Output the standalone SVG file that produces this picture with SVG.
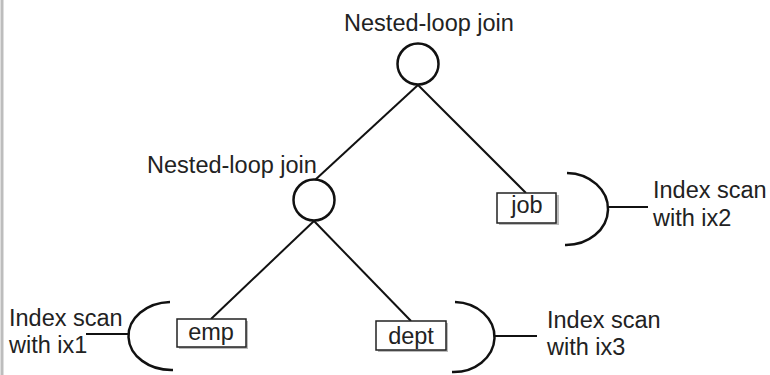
<svg xmlns="http://www.w3.org/2000/svg" width="770" height="375" viewBox="0 0 770 375">
<style>
text{font-family:"Liberation Sans",Arial,sans-serif;font-size:23.5px;fill:#222}
.c{fill:#fff;stroke:#111;stroke-width:2.5}
.ln{stroke:#111;stroke-width:2;fill:none}
.br{stroke:#111;stroke-width:2.5;fill:none}
.box{fill:#fff;stroke:#222;stroke-width:1.5}
.sh{fill:#bbb}
.m{text-anchor:middle}
</style>
<rect x="0" y="0" width="770" height="375" fill="#fff"/>
<line x1="2" y1="0" x2="2" y2="375" stroke="#bdbdbd" stroke-width="3"/>
<g id="connectors">
<line class="ln" x1="418" y1="85" x2="315" y2="180"/>
<line class="ln" x1="418" y1="85" x2="526" y2="193"/>
<line class="ln" x1="314" y1="221" x2="211" y2="319"/>
<line class="ln" x1="314" y1="221" x2="411" y2="321"/>
</g>
<g id="join-top">
<text x="429" y="31" class="m">Nested-loop join</text>
<circle class="c" cx="418" cy="64" r="20.5"/>
</g>
<g id="join-inner">
<text x="232" y="173" class="m">Nested-loop join</text>
<circle class="c" cx="314" cy="200" r="20.5"/>
</g>
<g id="job">
<rect class="sh" x="499" y="195" width="60" height="30"/>
<rect class="box" x="497" y="193" width="59" height="30"/>
<text x="527" y="213" class="m">job</text>
</g>
<g id="emp">
<rect class="sh" x="179" y="321" width="69" height="28"/>
<rect class="box" x="177" y="319" width="69" height="28"/>
<text x="211" y="340" class="m">emp</text>
</g>
<g id="dept">
<rect class="sh" x="378" y="323" width="70" height="29"/>
<rect class="box" x="376" y="321" width="70" height="29"/>
<text x="411" y="344" class="m">dept</text>
</g>
<g id="scan-ix2">
<path class="br" d="M567,173 A42 36 0 0 1 565,245"/>
<line class="ln" x1="608" y1="207" x2="648" y2="207"/>
<text x="653" y="198">Index scan</text>
<text x="653" y="226">with ix2</text>
</g>
<g id="scan-ix1">
<path class="br" d="M170,302 A43 34 0 0 0 173,370"/>
<line class="ln" x1="86" y1="334" x2="128" y2="334"/>
<text x="9" y="326">Index scan</text>
<text x="9" y="353">with ix1</text>
</g>
<g id="scan-ix3">
<path class="br" d="M455,302 A41 35 0 0 1 452,372"/>
<line class="ln" x1="495" y1="336" x2="537" y2="336"/>
<text x="547" y="328">Index scan</text>
<text x="547" y="355">with ix3</text>
</g>
</svg>
